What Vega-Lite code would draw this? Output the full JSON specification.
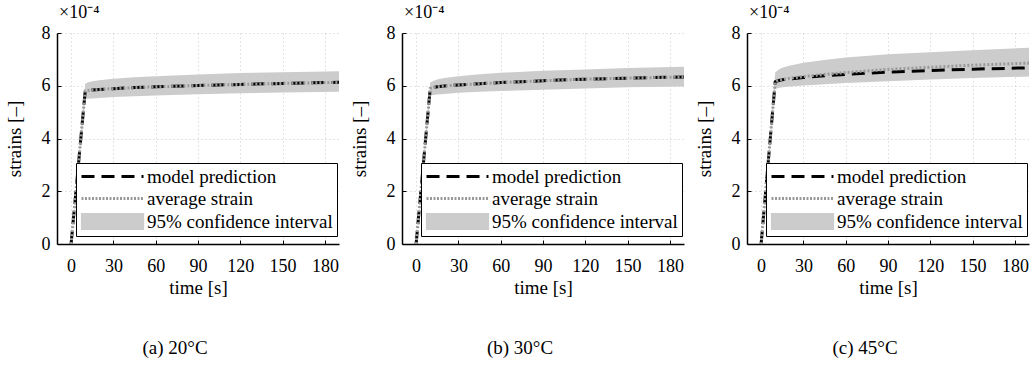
{
  "$schema": "https://vega.github.io/schema/vega-lite/v6.json",
  "padding": {"left": 5, "top": 4, "right": 0, "bottom": 0},
  "datasets": {
    "d": [
      {"panel": "a", "t": 0, "model": 0, "avg": 0, "lo": 0, "hi": 0},
      {"panel": "a", "t": 10, "model": 5.80, "avg": 5.80, "lo": 5.50, "hi": 6.08},
      {"panel": "a", "t": 12, "model": 5.82, "avg": 5.82, "lo": 5.51, "hi": 6.13},
      {"panel": "a", "t": 15, "model": 5.84, "avg": 5.84, "lo": 5.52, "hi": 6.17},
      {"panel": "a", "t": 20, "model": 5.86, "avg": 5.86, "lo": 5.54, "hi": 6.21},
      {"panel": "a", "t": 30, "model": 5.89, "avg": 5.89, "lo": 5.57, "hi": 6.27},
      {"panel": "a", "t": 45, "model": 5.93, "avg": 5.93, "lo": 5.60, "hi": 6.32},
      {"panel": "a", "t": 60, "model": 5.96, "avg": 5.96, "lo": 5.63, "hi": 6.36},
      {"panel": "a", "t": 90, "model": 6.01, "avg": 6.01, "lo": 5.68, "hi": 6.43},
      {"panel": "a", "t": 120, "model": 6.05, "avg": 6.05, "lo": 5.72, "hi": 6.48},
      {"panel": "a", "t": 150, "model": 6.09, "avg": 6.09, "lo": 5.74, "hi": 6.51},
      {"panel": "a", "t": 190, "model": 6.13, "avg": 6.13, "lo": 5.77, "hi": 6.55},
      {"panel": "b", "t": 0, "model": 0, "avg": 0, "lo": 0, "hi": 0},
      {"panel": "b", "t": 10, "model": 5.90, "avg": 5.90, "lo": 5.63, "hi": 6.12},
      {"panel": "b", "t": 12, "model": 5.93, "avg": 5.93, "lo": 5.65, "hi": 6.18},
      {"panel": "b", "t": 15, "model": 5.96, "avg": 5.96, "lo": 5.67, "hi": 6.24},
      {"panel": "b", "t": 20, "model": 5.99, "avg": 5.99, "lo": 5.69, "hi": 6.29},
      {"panel": "b", "t": 30, "model": 6.03, "avg": 6.03, "lo": 5.73, "hi": 6.36},
      {"panel": "b", "t": 45, "model": 6.08, "avg": 6.08, "lo": 5.77, "hi": 6.44},
      {"panel": "b", "t": 60, "model": 6.12, "avg": 6.12, "lo": 5.80, "hi": 6.49},
      {"panel": "b", "t": 90, "model": 6.19, "avg": 6.19, "lo": 5.85, "hi": 6.57},
      {"panel": "b", "t": 120, "model": 6.25, "avg": 6.25, "lo": 5.90, "hi": 6.62},
      {"panel": "b", "t": 150, "model": 6.29, "avg": 6.29, "lo": 5.94, "hi": 6.67},
      {"panel": "b", "t": 190, "model": 6.33, "avg": 6.33, "lo": 5.97, "hi": 6.72},
      {"panel": "c", "t": 0, "model": 0, "avg": 0, "lo": 0, "hi": 0},
      {"panel": "c", "t": 10, "model": 6.15, "avg": 6.15, "lo": 5.88, "hi": 6.50},
      {"panel": "c", "t": 12, "model": 6.19, "avg": 6.20, "lo": 5.91, "hi": 6.60},
      {"panel": "c", "t": 15, "model": 6.23, "avg": 6.24, "lo": 5.94, "hi": 6.68},
      {"panel": "c", "t": 20, "model": 6.26, "avg": 6.28, "lo": 5.97, "hi": 6.76},
      {"panel": "c", "t": 30, "model": 6.31, "avg": 6.35, "lo": 6.01, "hi": 6.87},
      {"panel": "c", "t": 45, "model": 6.38, "avg": 6.43, "lo": 6.06, "hi": 6.98},
      {"panel": "c", "t": 60, "model": 6.43, "avg": 6.50, "lo": 6.10, "hi": 7.07},
      {"panel": "c", "t": 90, "model": 6.52, "avg": 6.62, "lo": 6.17, "hi": 7.19},
      {"panel": "c", "t": 120, "model": 6.58, "avg": 6.70, "lo": 6.24, "hi": 7.27},
      {"panel": "c", "t": 150, "model": 6.63, "avg": 6.78, "lo": 6.29, "hi": 7.35},
      {"panel": "c", "t": 190, "model": 6.68, "avg": 6.86, "lo": 6.35, "hi": 7.44}
    ]
  },
  "spacing": 5,
  "hconcat": [
    {
      "title": {"text": "(a)  20°C", "orient": "bottom", "offset": 42, "anchor": "middle"},
      "vconcat": [
        {
          "width": 282, "height": 211,
          "title": {"text": "×10⁻⁴", "anchor": "start", "frame": "group", "fontSize": 18, "offset": 2, "dx": 2},
          "data": {"name": "d"},
          "transform": [{"filter": "datum.panel === 'a'"}],
          "encoding": {
            "x": {"field": "t", "type": "quantitative", "scale": {"domain": [-10, 190], "nice": false, "zero": false}, "axis": {"values": [0, 30, 60, 90, 120, 150, 180], "title": "time [s]"}}
          },
          "layer": [
            {
              "mark": {"type": "area", "opacity": 1},
              "encoding": {
                "y": {"field": "lo", "type": "quantitative", "scale": {"domain": [0, 8], "nice": false}, "axis": {"values": [0, 2, 4, 6, 8], "title": "strains [–]"}},
                "y2": {"field": "hi"},
                "color": {"datum": "95% confidence interval", "scale": {"domain": ["model prediction", "average strain", "95% confidence interval"], "range": ["#000000", "#999999", "#cccccc"]},
                  "legend": {"title": null, "orient": "none", "legendX": 19, "legendY": 130, "strokeColor": "black", "fillColor": "white", "padding": 4, "labelFontSize": 19, "labelColor": "black", "labelLimit": 400, "symbolSize": 400, "symbolOffset": 23, "labelOffset": 25, "rowPadding": 2,
                    "encoding": {"symbols": {
                      "shape": {"value": {"expr": "datum.label === '95% confidence interval' ? 'M-3.1,-0.8H3.1V0.8H-3.1Z' : 'M-3.1,0H3.1'"}},
                      "strokeDash": {"value": {"expr": "datum.label === 'model prediction' ? [13,7] : datum.label === 'average strain' ? [2,1.5] : [100,0]"}},
                      "fill": {"value": {"expr": "datum.label === '95% confidence interval' ? '#cccccc' : 'transparent'"}},
                      "fillOpacity": {"value": 1},
                      "stroke": {"value": {"expr": "datum.label === 'model prediction' ? '#000000' : datum.label === 'average strain' ? '#999999' : '#222222'"}},
                      "strokeOpacity": {"value": 1},
                      "strokeWidth": {"value": {"expr": "datum.label === '95% confidence interval' ? 1.2 : 3"}},
                      "opacity": {"value": 1}
                    }}
                  }
                }
              }
            },
            {
              "mark": {"type": "line", "strokeWidth": 3, "strokeDash": [13, 7]},
              "encoding": {
                "y": {"field": "model", "type": "quantitative", "axis": {"values": [0, 2, 4, 6, 8], "title": "strains [–]"}},
                "color": {"datum": "model prediction"}
              }
            },
            {
              "mark": {"type": "line", "strokeWidth": 3, "strokeDash": [2, 2]},
              "encoding": {
                "y": {"field": "avg", "type": "quantitative", "axis": {"values": [0, 2, 4, 6, 8], "title": "strains [–]"}},
                "color": {"datum": "average strain"}
              }
            }
          ]
        }
      ]
    },
    {
      "title": {"text": "(b)  30°C", "orient": "bottom", "offset": 42, "anchor": "middle"},
      "vconcat": [
        {
          "width": 282, "height": 211,
          "title": {"text": "×10⁻⁴", "anchor": "start", "frame": "group", "fontSize": 18, "offset": 2, "dx": 2},
          "data": {"name": "d"},
          "transform": [{"filter": "datum.panel === 'b'"}],
          "encoding": {
            "x": {"field": "t", "type": "quantitative", "scale": {"domain": [-10, 190], "nice": false, "zero": false}, "axis": {"values": [0, 30, 60, 90, 120, 150, 180], "title": "time [s]"}}
          },
          "layer": [
            {
              "mark": {"type": "area", "opacity": 1},
              "encoding": {
                "y": {"field": "lo", "type": "quantitative", "scale": {"domain": [0, 8], "nice": false}, "axis": {"values": [0, 2, 4, 6, 8], "title": "strains [–]"}},
                "y2": {"field": "hi"},
                "color": {"datum": "95% confidence interval", "scale": {"domain": ["model prediction", "average strain", "95% confidence interval"], "range": ["#000000", "#999999", "#cccccc"]},
                  "legend": {"title": null, "orient": "none", "legendX": 19, "legendY": 130, "strokeColor": "black", "fillColor": "white", "padding": 4, "labelFontSize": 19, "labelColor": "black", "labelLimit": 400, "symbolSize": 400, "symbolOffset": 23, "labelOffset": 25, "rowPadding": 2,
                    "encoding": {"symbols": {
                      "shape": {"value": {"expr": "datum.label === '95% confidence interval' ? 'M-3.1,-0.8H3.1V0.8H-3.1Z' : 'M-3.1,0H3.1'"}},
                      "strokeDash": {"value": {"expr": "datum.label === 'model prediction' ? [13,7] : datum.label === 'average strain' ? [2,1.5] : [100,0]"}},
                      "fill": {"value": {"expr": "datum.label === '95% confidence interval' ? '#cccccc' : 'transparent'"}},
                      "fillOpacity": {"value": 1},
                      "stroke": {"value": {"expr": "datum.label === 'model prediction' ? '#000000' : datum.label === 'average strain' ? '#999999' : '#222222'"}},
                      "strokeOpacity": {"value": 1},
                      "strokeWidth": {"value": {"expr": "datum.label === '95% confidence interval' ? 1.2 : 3"}},
                      "opacity": {"value": 1}
                    }}
                  }
                }
              }
            },
            {
              "mark": {"type": "line", "strokeWidth": 3, "strokeDash": [13, 7]},
              "encoding": {
                "y": {"field": "model", "type": "quantitative", "axis": {"values": [0, 2, 4, 6, 8], "title": "strains [–]"}},
                "color": {"datum": "model prediction"}
              }
            },
            {
              "mark": {"type": "line", "strokeWidth": 3, "strokeDash": [2, 2]},
              "encoding": {
                "y": {"field": "avg", "type": "quantitative", "axis": {"values": [0, 2, 4, 6, 8], "title": "strains [–]"}},
                "color": {"datum": "average strain"}
              }
            }
          ]
        }
      ]
    },
    {
      "title": {"text": "(c)  45°C", "orient": "bottom", "offset": 42, "anchor": "middle"},
      "vconcat": [
        {
          "width": 282, "height": 211,
          "title": {"text": "×10⁻⁴", "anchor": "start", "frame": "group", "fontSize": 18, "offset": 2, "dx": 2},
          "data": {"name": "d"},
          "transform": [{"filter": "datum.panel === 'c'"}],
          "encoding": {
            "x": {"field": "t", "type": "quantitative", "scale": {"domain": [-10, 190], "nice": false, "zero": false}, "axis": {"values": [0, 30, 60, 90, 120, 150, 180], "title": "time [s]"}}
          },
          "layer": [
            {
              "mark": {"type": "area", "opacity": 1},
              "encoding": {
                "y": {"field": "lo", "type": "quantitative", "scale": {"domain": [0, 8], "nice": false}, "axis": {"values": [0, 2, 4, 6, 8], "title": "strains [–]"}},
                "y2": {"field": "hi"},
                "color": {"datum": "95% confidence interval", "scale": {"domain": ["model prediction", "average strain", "95% confidence interval"], "range": ["#000000", "#999999", "#cccccc"]},
                  "legend": {"title": null, "orient": "none", "legendX": 19, "legendY": 130, "strokeColor": "black", "fillColor": "white", "padding": 4, "labelFontSize": 19, "labelColor": "black", "labelLimit": 400, "symbolSize": 400, "symbolOffset": 23, "labelOffset": 25, "rowPadding": 2,
                    "encoding": {"symbols": {
                      "shape": {"value": {"expr": "datum.label === '95% confidence interval' ? 'M-3.1,-0.8H3.1V0.8H-3.1Z' : 'M-3.1,0H3.1'"}},
                      "strokeDash": {"value": {"expr": "datum.label === 'model prediction' ? [13,7] : datum.label === 'average strain' ? [2,1.5] : [100,0]"}},
                      "fill": {"value": {"expr": "datum.label === '95% confidence interval' ? '#cccccc' : 'transparent'"}},
                      "fillOpacity": {"value": 1},
                      "stroke": {"value": {"expr": "datum.label === 'model prediction' ? '#000000' : datum.label === 'average strain' ? '#999999' : '#222222'"}},
                      "strokeOpacity": {"value": 1},
                      "strokeWidth": {"value": {"expr": "datum.label === '95% confidence interval' ? 1.2 : 3"}},
                      "opacity": {"value": 1}
                    }}
                  }
                }
              }
            },
            {
              "mark": {"type": "line", "strokeWidth": 3, "strokeDash": [13, 7]},
              "encoding": {
                "y": {"field": "model", "type": "quantitative", "axis": {"values": [0, 2, 4, 6, 8], "title": "strains [–]"}},
                "color": {"datum": "model prediction"}
              }
            },
            {
              "mark": {"type": "line", "strokeWidth": 3, "strokeDash": [2, 2]},
              "encoding": {
                "y": {"field": "avg", "type": "quantitative", "axis": {"values": [0, 2, 4, 6, 8], "title": "strains [–]"}},
                "color": {"datum": "average strain"}
              }
            }
          ]
        }
      ]
    }
  ],
  "resolve": {"scale": {"color": "independent"}, "legend": {"color": "independent"}},
  "config": {
    "font": "Liberation Serif",
    "view": {"stroke": null},
    "title": {"fontSize": 19, "fontWeight": "normal", "color": "black", "font": "Liberation Serif"},
    "axis": {
      "labelFont": "Liberation Serif", "titleFont": "Liberation Serif",
      "labelFontSize": 18, "titleFontSize": 19, "titleFontWeight": "normal",
      "labelColor": "black", "titleColor": "black",
      "domainColor": "black", "domainWidth": 1.5,
      "tickColor": "black", "tickSize": -4, "tickWidth": 1,
      "grid": true, "gridDash": [1, 3], "gridColor": "#c8c8c8", "gridWidth": 1
    },
    "axisX": {"labelPadding": 17, "titlePadding": 3, "labelFlush": false},
    "axisY": {"labelPadding": 11, "titlePadding": 17}
  }
}
